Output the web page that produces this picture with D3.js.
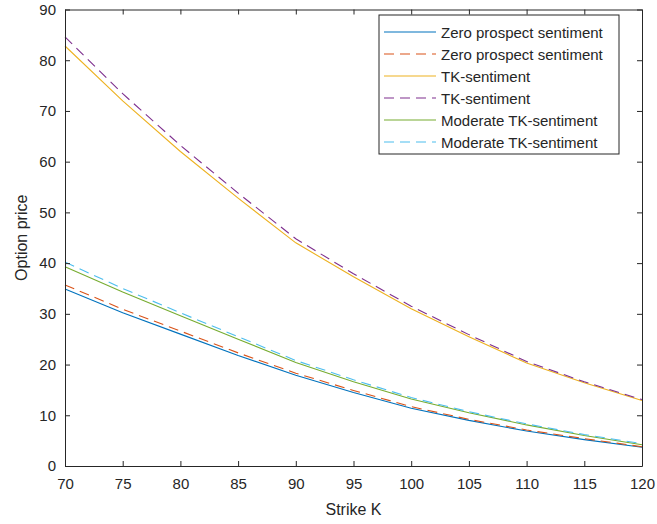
<!DOCTYPE html>
<html lang="en">
<head>
<meta charset="UTF-8">
<title>Option price vs strike</title>
<script src="https://d3js.org/d3.v7.min.js"></script>
<style>
  body { margin: 0; background: #fff; }
  svg text { font-family: Arial, "Liberation Sans", sans-serif; fill: #262626; }
</style>
</head>
<body>
<div id="chart"></div>
<script>
// data
var strikes = [70, 75, 80, 85, 90, 95, 100, 105, 110, 115, 120];
var zeroSolid = [34.9, 30.2, 26.0, 21.8, 17.9, 14.5, 11.4, 9.0, 6.9, 5.2, 3.7];
var zeroDash  = [35.7, 30.9, 26.6, 22.3, 18.3, 14.9, 11.7, 9.2, 7.1, 5.4, 3.8];
var tkSolid   = [82.8, 72.0, 62.0, 52.8, 44.0, 37.3, 31.0, 25.5, 20.3, 16.4, 12.9];
var tkDash    = [84.6, 73.4, 63.2, 53.8, 44.8, 37.9, 31.5, 25.9, 20.6, 16.6, 13.1];
var modSolid  = [39.3, 34.3, 29.6, 25.0, 20.4, 16.6, 13.2, 10.5, 8.1, 6.0, 4.2];
var modDash   = [40.2, 35.0, 30.2, 25.5, 20.8, 17.0, 13.5, 10.7, 8.3, 6.2, 4.4];
var xTicks = [70, 75, 80, 85, 90, 95, 100, 105, 110, 115, 120];
var yTicks = [0, 10, 20, 30, 40, 50, 60, 70, 80, 90];

var series = [
  {name: "Zero prospect sentiment", vals: zeroSolid, color: "#0072BD", dash: null},
  {name: "Zero prospect sentiment", vals: zeroDash, color: "#D95319", dash: "10,6"},
  {name: "TK-sentiment", vals: tkSolid, color: "#EDB120", dash: null},
  {name: "TK-sentiment", vals: tkDash, color: "#7E2F8E", dash: "10,6"},
  {name: "Moderate TK-sentiment", vals: modSolid, color: "#77AC30", dash: null},
  {name: "Moderate TK-sentiment", vals: modDash, color: "#4DBEEE", dash: "10,6"}
];

var W = 657, H = 524;
var margin = {top: 9.5, right: 15, bottom: 58, left: 65};
var width = W - margin.left - margin.right,
    height = H - margin.top - margin.bottom;

var svg = d3.select("#chart").append("svg")
    .attr("width", W).attr("height", H);
var g = svg.append("g")
    .attr("transform", "translate(" + margin.left + "," + margin.top + ")");

var x = d3.scaleLinear().domain([70, 120]).range([0, width]);
var y = d3.scaleLinear().domain([0, 90]).range([height, 0]);

// lines
var line = d3.line()
    .x(function(d, i) { return x(strikes[i]); })
    .y(function(d) { return y(d); });

series.forEach(function(s) {
  g.append("path")
    .attr("d", line(s.vals))
    .attr("fill", "none")
    .attr("stroke", s.color)
    .attr("stroke-width", 1.1)
    .attr("stroke-dasharray", s.dash);
});

// axes, MATLAB style box with inward ticks
var tl = 5;
var axBottom = g.append("g").attr("transform", "translate(0," + height + ")")
    .call(d3.axisBottom(x).tickValues(xTicks).tickSizeInner(-tl).tickSizeOuter(0).tickPadding(12));
var axTop = g.append("g")
    .call(d3.axisTop(x).tickValues(xTicks).tickSizeInner(-tl).tickSizeOuter(0).tickFormat(""));
var axLeft = g.append("g")
    .call(d3.axisLeft(y).tickValues(yTicks).tickSizeInner(-tl).tickSizeOuter(0).tickPadding(9));
var axRight = g.append("g").attr("transform", "translate(" + width + ",0)")
    .call(d3.axisRight(y).tickValues(yTicks).tickSizeInner(-tl).tickSizeOuter(0).tickFormat(""));

[axBottom, axTop, axLeft, axRight].forEach(function(a) {
  a.selectAll("path, line").attr("stroke", "#262626").attr("stroke-width", 1);
  a.selectAll("text").style("font-size", "15px").attr("fill", "#262626");
});

svg.append("text")
    .attr("x", margin.left + width / 2).attr("y", 515)
    .attr("text-anchor", "middle")
    .style("font-size", "16px")
    .text("Strike K");

svg.append("text")
    .attr("transform", "translate(27," + (margin.top + height / 2) + ") rotate(-90)")
    .attr("text-anchor", "middle")
    .style("font-size", "16px")
    .text("Option price");

// legend
var lg = svg.append("g").attr("transform", "translate(379,15)");
lg.append("rect")
    .attr("width", 240).attr("height", 139)
    .attr("fill", "#fff").attr("stroke", "#262626").attr("stroke-width", 1);
series.forEach(function(s, i) {
  var yy = 17 + i * 22;
  lg.append("line")
    .attr("x1", 5).attr("x2", 57).attr("y1", yy).attr("y2", yy)
    .attr("stroke", s.color).attr("stroke-width", 1.1)
    .attr("stroke-dasharray", s.dash);
  lg.append("text")
    .attr("x", 62).attr("y", yy + 5.5)
    .style("font-size", "15px")
    .text(s.name);
});
</script>
</body>
</html>
